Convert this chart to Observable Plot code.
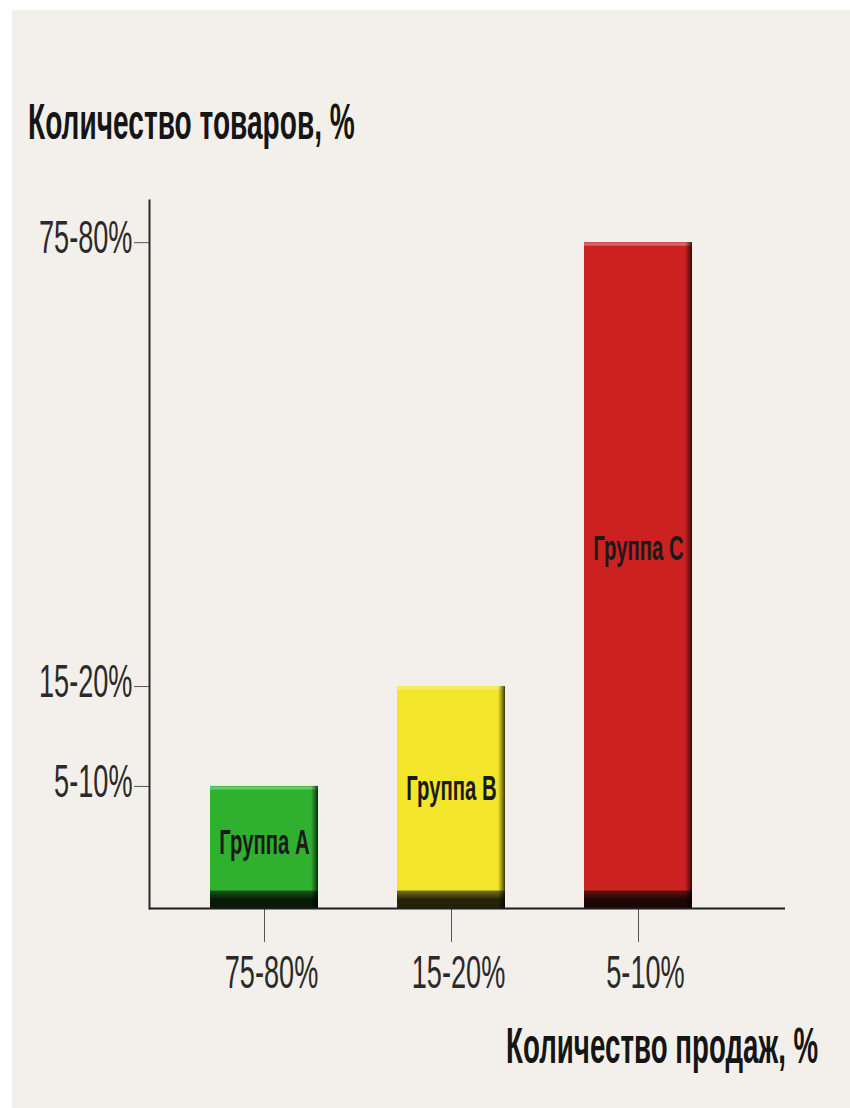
<!DOCTYPE html>
<html><head><meta charset="utf-8">
<script src="https://cdn.jsdelivr.net/npm/d3@7"></script>
<script src="https://cdn.jsdelivr.net/npm/@observablehq/plot@0.6"></script>
<style>
body{margin:0;background:#fff;width:850px;height:1108px;overflow:hidden;position:relative;font-family:"Liberation Sans",Arial,sans-serif}
#bg{position:absolute;left:12px;top:10px;width:838px;height:1098px;background:#f3f0eb}
#chart{position:absolute;left:0;top:0}
.title{position:absolute;font-weight:bold;font-size:50px;line-height:1;color:#151515;white-space:nowrap}
#ytitle{left:28px;top:97px;transform-origin:left top}
#xtitle{right:32px;top:1021px;transform-origin:right top}
</style>
</head><body>
<div id="bg"></div>
<div id="chart"></div>
<div class="title" id="ytitle">Количество товаров, %</div>
<div class="title" id="xtitle">Количество продаж, %</div>
<script>
// data
const groups = ["Группа A", "Группа B", "Группа C"];
const salesShare = ["75-80%", "15-20%", "5-10%"];   // x tick labels
const itemShare = ["5-10%", "15-20%", "75-80%"];    // y tick labels
const heights = [11, 20, 60];
const colors = ["#2fb12f", "#f3e52a", "#cb2121"];

const data = groups.map((g, i) => ({group: g, value: heights[i], color: colors[i]}));

const plot = Plot.plot({
  width: 850, height: 1108,
  marginLeft: 149, marginRight: 65, marginTop: 200, marginBottom: 200,
  style: {background: "transparent", fontFamily: "'Liberation Sans', Arial, sans-serif", color: "#2a2a2a", overflow: "visible"},
  x: {domain: groups, range: [209, 694], paddingInner: 0.42, paddingOuter: 0, axis: null},
  y: {domain: [0, 63.8], axis: null},
  marks: [
    Plot.barY(data, {x: "group", y: "value", fill: "color"}),
    Plot.tickY(data, {x: "group", y: "value", stroke: "#fff", strokeOpacity: 0.3, strokeWidth: 3, dy: 1.5}),
    Plot.barY(data, {x: "group", y: "value", fill: "url(#rightShade)", insetLeft: 101}),
    Plot.tickY(data, {x: "group", y: 0, stroke: "url(#bottomShade)", strokeWidth: 18, dy: -9}),
    Plot.text(data, {x: "group", y: d => d.value * 0.54, text: "group", fontSize: 35, fontWeight: "bold", fill: "#1a1a1a"}),
    Plot.axisY({ticks: heights, tickSize: 15, tickFormat: () => "", stroke: "#555", strokeWidth: 1, label: null}),
    Plot.axisY({ticks: heights, tickSize: 0, tickPadding: 17, dy: -4, fontSize: 46, label: null,
      tickFormat: v => itemShare[heights.indexOf(v)]}),
    Plot.axisX({tickSize: 34, tickFormat: () => "", stroke: "#555", strokeWidth: 1, label: null}),
    Plot.axisX({tickSize: 0, tickPadding: 47, dx: 7, fontSize: 46, label: null,
      tickFormat: g => salesShare[groups.indexOf(g)]}),
    Plot.frame({anchor: "left", stroke: "#2a2a2a", strokeWidth: 2}),
    Plot.ruleY([0], {stroke: "#1e1e1e", strokeWidth: 2})
  ]
});
document.getElementById("chart").appendChild(plot);

// shading gradients for the pseudo-3D bars
const defs = d3.select(plot).insert("defs", ":first-child");
const rg = defs.append("linearGradient").attr("id", "rightShade")
  .attr("x1", 0).attr("x2", 1).attr("y1", 0).attr("y2", 0);
rg.append("stop").attr("offset", 0).attr("stop-color", "#000").attr("stop-opacity", 0);
rg.append("stop").attr("offset", 0.5).attr("stop-color", "#000").attr("stop-opacity", 0.35);
rg.append("stop").attr("offset", 1).attr("stop-color", "#000").attr("stop-opacity", 0.75);
const bg = defs.append("linearGradient").attr("id", "bottomShade")
  .attr("gradientUnits", "userSpaceOnUse").attr("x1", 0).attr("x2", 0)
  .attr("y1", plot.getAttribute("height") - 200 - 18).attr("y2", plot.getAttribute("height") - 200);
bg.append("stop").attr("offset", 0).attr("stop-color", "#000").attr("stop-opacity", 0);
bg.append("stop").attr("offset", 0.45).attr("stop-color", "#000").attr("stop-opacity", 0.45);
bg.append("stop").attr("offset", 1).attr("stop-color", "#000").attr("stop-opacity", 0.85);

// condense text horizontally (the reference uses a narrow typeface)
plot.querySelectorAll("text").forEach(t => {
  const w = t.getComputedTextLength();
  if (!w) return;
  const isBar = t.closest('g[aria-label="text"]');
  const f = isBar ? 0.58 : 0.59;
  t.setAttribute("textLength", w * f);
  t.setAttribute("lengthAdjust", "spacingAndGlyphs");
});

// titles condensed to reference widths
[["ytitle", 327], ["xtitle", 312]].forEach(([id, target]) => {
  const el = document.getElementById(id);
  el.style.transform = `scaleX(${target / el.offsetWidth})`;
});
</script>
</body></html>
